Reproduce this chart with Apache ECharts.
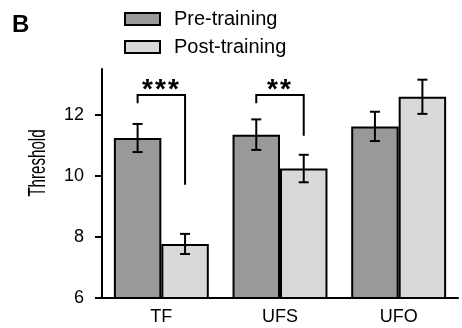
<!DOCTYPE html>
<html>
<head>
<meta charset="utf-8">
<script src="https://cdn.jsdelivr.net/npm/echarts@6/dist/echarts.min.js"></script>
<style>html,body{margin:0;padding:0;background:#fff;}#c{width:462px;height:328px;}</style>
</head>
<body>
<div id="c"></div>
<script>
const categories = ['TF', 'UFS', 'UFO'];
const preTraining = [11.24, 11.35, 11.62];
const postTraining = [7.77, 10.24, 12.59];
const preErr = [0.46, 0.50, 0.48];
const postErr = [0.33, 0.45, 0.56];
const yTicks = [6, 8, 10, 12];
// [category index, left leg bottom, bracket top, right leg bottom]
const brackets = [
  [0, 12.38, 12.65, 9.71],
  [1, 12.38, 12.65, 11.31]
];
const starCounts = [3, 2];

const FONT = 'Liberation Sans, Arial, Helvetica, sans-serif';
const chart = echarts.init(document.getElementById('c'));

function errRender(side) {
  return function (params, api) {
    const c = api.value(0), m = api.value(1), e = api.value(2);
    const band = api.size([1, 0])[0];
    const x = api.coord([c, m])[0] + side * band * 0.2;
    const yHi = api.coord([c, m + e])[1];
    const yLo = api.coord([c, m - e])[1];
    const h = 5;
    const st = { stroke: '#000', lineWidth: 2 };
    return {
      type: 'group',
      children: [
        { type: 'line', shape: { x1: x, y1: yHi, x2: x, y2: yLo }, style: st },
        { type: 'line', shape: { x1: x - h, y1: yHi, x2: x + h, y2: yHi }, style: st },
        { type: 'line', shape: { x1: x - h, y1: yLo, x2: x + h, y2: yLo }, style: st }
      ]
    };
  };
}

function bracketRender(params, api) {
  const c = api.value(0);
  const band = api.size([1, 0])[0];
  const cx = api.coord([c, api.value(2)])[0];
  const xl = cx - band * 0.2, xr = cx + band * 0.2;
  const yl = api.coord([c, api.value(1)])[1];
  const yt = api.coord([c, api.value(2)])[1];
  const yr = api.coord([c, api.value(3)])[1];
  const n = starCounts[params.dataIndex];
  const pitch = 13;
  const children = [
    { type: 'polyline', shape: { points: [[xl, yl], [xl, yt], [xr, yt], [xr, yr]] },
      style: { stroke: '#000', lineWidth: 2, fill: null } }
  ];
  for (let k = 0; k < n; k++) {
    const sx = cx - 1 + (k - (n - 1) / 2) * pitch;
    children.push({ type: 'text', x: sx, y: yt - 5,
      style: { text: '*', fontSize: 28, fontWeight: 'bold', fontFamily: FONT,
               align: 'center', verticalAlign: 'middle', fill: '#000' } });
  }
  return { type: 'group', children: children };
}

chart.setOption({
  animation: false,
  textStyle: { fontFamily: FONT },
  grid: { left: 102, right: 4, top: 69, bottom: 30, containLabel: false },
  legend: {
    orient: 'vertical', left: 119, top: 4,
    itemWidth: 35, itemHeight: 12, itemGap: 8, icon: 'rect',
    itemStyle: { borderColor: '#000', borderWidth: 2 },
    textStyle: { fontSize: 20, lineHeight: 20, color: '#000', fontFamily: FONT, padding: [0, 0, 0, 9] },
    data: ['Pre-training', 'Post-training']
  },
  graphic: [
    { type: 'text', x: 12, y: 13, style: { text: 'B', fontSize: 24, fontWeight: 'bold', fontFamily: FONT, fill: '#000', verticalAlign: 'top' } },
    { type: 'text', x: 38, y: 163, rotation: Math.PI / 2, scaleX: 0.63, scaleY: 1,
      style: { text: 'Threshold', fontSize: 24, fontFamily: FONT, fill: '#000', align: 'center', verticalAlign: 'middle' } }
  ],
  xAxis: {
    type: 'category', data: categories,
    axisLine: { lineStyle: { color: '#000', width: 2 } },
    axisTick: { show: false },
    axisLabel: { fontSize: 18, color: '#000', margin: 10, fontFamily: FONT }
  },
  yAxis: {
    type: 'value', min: 6, max: 13.5, interval: 2,
    axisLine: { show: true, lineStyle: { color: '#000', width: 2 } },
    axisTick: { show: true, length: 7, lineStyle: { color: '#000', width: 2 }, customValues: yTicks },
    axisLabel: { customValues: yTicks, margin: 18, fontSize: 18, color: '#000', fontFamily: FONT },
    splitLine: { show: false }
  },
  series: [
    { name: 'Pre-training', type: 'bar', data: preTraining, barGap: '0%', barCategoryGap: '20%',
      itemStyle: { color: '#999999', borderColor: '#000', borderWidth: 2 } },
    { name: 'Post-training', type: 'bar', data: postTraining, barGap: '0%', barCategoryGap: '20%',
      itemStyle: { color: '#d8d9d9', borderColor: '#000', borderWidth: 2 } },
    { type: 'custom', renderItem: errRender(-1), z: 5, clip: false,
      data: preTraining.map((v, i) => [i, v, preErr[i]]) },
    { type: 'custom', renderItem: errRender(1), z: 5, clip: false,
      data: postTraining.map((v, i) => [i, v, postErr[i]]) },
    { type: 'custom', renderItem: bracketRender, z: 5, clip: false,
      data: brackets.map(b => [b[0], b[1], b[2], b[3]]) }
  ]
});
</script>
</body>
</html>
